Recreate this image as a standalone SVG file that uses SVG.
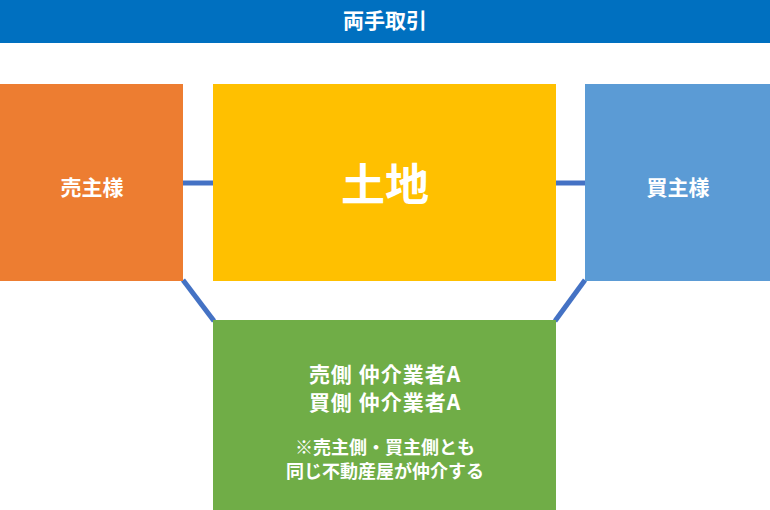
<svg xmlns="http://www.w3.org/2000/svg" width="770" height="510" viewBox="0 0 770 510">
<style>
text{font-family:"Noto Sans CJK JP","Noto Sans",sans-serif;font-weight:bold;fill:#fff;text-anchor:middle;dominant-baseline:central}
.ln{stroke:#4472C4;stroke-width:5;fill:none}
.big{font-size:21px;letter-spacing:1px}
.sm{font-size:18px}
</style>
<rect width="770" height="510" fill="#fff"/>
<g id="title"><rect x="0" y="0" width="770" height="43" fill="#0070C0"/><text x="385" y="19" font-size="21">両手取引</text></g>
<g id="connectors">
<line class="ln" x1="183" y1="183" x2="213" y2="183"/>
<line class="ln" x1="556" y1="183" x2="585" y2="183"/>
<line class="ln" x1="183" y1="280" x2="214" y2="321"/>
<line class="ln" x1="585" y1="280" x2="555" y2="321"/>
</g>
<g id="seller"><rect x="0" y="84" width="183" height="197" fill="#ED7D31"/><text x="92" y="186" font-size="21">売主様</text></g>
<g id="land"><rect x="213" y="84" width="343" height="197" fill="#FFC000"/><text x="385" y="182" font-size="44">土地</text></g>
<g id="buyer"><rect x="585" y="84" width="185" height="197" fill="#5B9BD5"/><text x="678" y="186" font-size="21">買主様</text></g>
<g id="agent"><rect x="213" y="320" width="343" height="190" fill="#70AD47"/>
<text class="big" x="385" y="373">売側 仲介業者A</text>
<text class="big" x="385" y="401">買側 仲介業者A</text>
<text class="sm" x="385" y="446">※売主側・買主側とも</text>
<text class="sm" x="385" y="470">同じ不動産屋が仲介する</text>
</g>
</svg>
